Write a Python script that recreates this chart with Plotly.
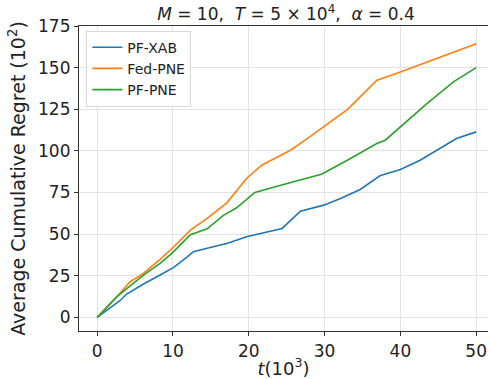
import plotly.graph_objects as go

xab_t = [0, 3.0, 3.9, 6.1, 8.3, 10.1, 11.8, 12.7, 14.9, 17.1, 19.7, 22.4, 24.4, 26.8, 29.9, 32.1, 34.7, 37.3, 40.0, 42.6, 44.8, 47.4, 50.0]
xab_v = [0, 10, 14, 20, 25.4, 30, 36, 39.4, 42, 44.4, 48.4, 51.4, 53.4, 63.8, 67.4, 71.4, 76.8, 85, 88.8, 94.4, 100.4, 107.4, 111.4]

fed_t = [0, 2.6, 4.35, 6.1, 8.3, 10.1, 12.3, 14.5, 17.1, 19.7, 21.7, 25.5, 27.7, 29.9, 33.0, 36.9, 40.0, 50.0]
fed_v = [0, 12.4, 21.4, 26.4, 34.8, 42.4, 52.4, 59.4, 68.8, 83.4, 91.4, 100.4, 107.4, 114.8, 124.8, 142.4, 147.4, 164.4]

pne_t = [0, 2.6, 6.1, 8.3, 9.85, 12.3, 14.5, 16.7, 18.4, 20.8, 25.9, 29.6, 33.0, 36.9, 38.0, 40.0, 43.5, 47.0, 50.0]
pne_v = [0, 12.4, 25.4, 32.4, 38.4, 49.6, 53.2, 61.4, 65.8, 75, 81.4, 86, 94.4, 104.4, 106.4, 114.4, 128.4, 141.4, 150]

x_ticks = [0, 10, 20, 30, 40, 50]
y_ticks = [0, 25, 50, 75, 100, 125, 150, 175]

fig = go.Figure()
for name, t, v, c in [("PF-XAB", xab_t, xab_v, "#1f77b4"),
                      ("Fed-PNE", fed_t, fed_v, "#ff7f0e"),
                      ("PF-PNE", pne_t, pne_v, "#2ca02c")]:
    fig.add_trace(go.Scatter(x=t, y=v, mode="lines", name=name,
                             line=dict(color=c, width=1.6)))

axis_common = dict(showgrid=True, gridcolor="#e3e3e3", gridwidth=1,
                   showline=True, linecolor="#333333", linewidth=1.2,
                   ticks="outside", ticklen=4, tickcolor="#333333",
                   tickfont=dict(size=17, color="#222222"), zeroline=False)

fig.update_layout(
    width=488, height=379,
    margin=dict(l=79, r=0, t=26, b=48, autoexpand=False),
    plot_bgcolor="white", paper_bgcolor="white",
    font=dict(family="DejaVu Sans", color="#222222"),
    title=dict(text="<i>M</i> = 10,  <i>T</i> = 5 × 10<sup>4</sup>,  <i>α</i> = 0.4",
               x=0.586, xanchor="center", y=0.962, yanchor="middle",
               font=dict(size=17)),
    xaxis=dict(range=[-2.4, 51.56], tickvals=x_ticks, mirror=True, automargin=False,
               title=dict(text="<i>t</i>(10<sup>3</sup>)", font=dict(size=18), standoff=5),
               **axis_common),
    yaxis=dict(range=[-8.2, 175], tickvals=y_ticks, automargin=False,
               title=dict(text="Average Cumulative Regret (10<sup>2</sup>)", font=dict(size=19), standoff=7),
               **axis_common),
    legend=dict(x=0.018, y=0.985, xanchor="left", yanchor="top",
                bgcolor="rgba(255,255,255,0.9)", bordercolor="#d8d8d8", borderwidth=1,
                font=dict(size=14, color="#222222"), tracegroupgap=0),
    showlegend=True,
)

fig.write_html("out.html", config={"displayModeBar": False},
               post_script="document.body.style.margin='0';document.body.style.padding='0';document.body.style.overflow='hidden';")
